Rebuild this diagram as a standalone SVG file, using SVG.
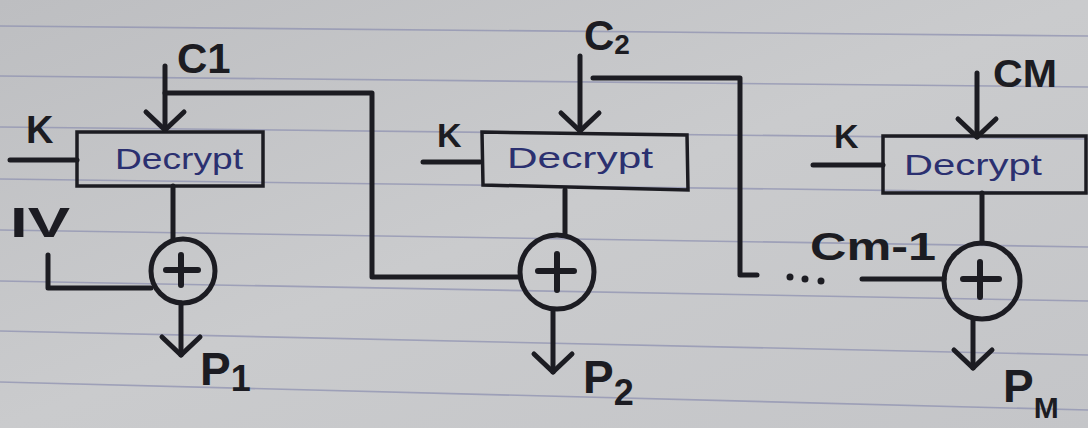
<svg xmlns="http://www.w3.org/2000/svg" width="1088" height="428" viewBox="0 0 1088 428">
  <defs>
    <linearGradient id="paper" x1="0" y1="0" x2="1" y2="1">
      <stop offset="0" stop-color="#bdbec1"/>
      <stop offset="0.5" stop-color="#cacbcd"/>
      <stop offset="1" stop-color="#c4c5c8"/>
    </linearGradient>
    <marker id="chev" markerUnits="userSpaceOnUse" viewBox="-24 -24 30 48" markerWidth="30" markerHeight="48" refX="0" refY="0" orient="auto" overflow="visible">
      <path d="M-18,-19 L0,0 L-18,19" fill="none" stroke="#1c1c22" stroke-width="5" stroke-linecap="round" stroke-linejoin="round"/>
    </marker>
    <style>
      .rule { stroke: #8c8fb0; stroke-width: 1.6; opacity: 0.7; }
      .ink { fill: none; stroke: #1c1c22; stroke-width: 5; stroke-linecap: round; stroke-linejoin: round; }
      .box { fill: none; stroke: #1c1c22; stroke-width: 3.5; }
      .xor { fill: none; stroke: #1c1c22; stroke-width: 5; }
      .plus { fill: none; stroke: #1c1c22; stroke-width: 6; stroke-linecap: round; }
      .dec { font-family: "Liberation Sans", Arial, sans-serif; font-size: 29px; fill: #2b3070; }
      .lbl { font-family: "Liberation Sans", Arial, sans-serif; font-weight: bold; fill: #1c1c22; }
    </style>
  </defs>

  <rect x="0" y="0" width="1088" height="428" fill="url(#paper)"/>
  <g id="paper-lines">
    <line class="rule" x1="0" y1="26" x2="1088" y2="36"/>
    <line class="rule" x1="0" y1="76" x2="1088" y2="87"/>
    <line class="rule" x1="0" y1="127" x2="1088" y2="139"/>
    <line class="rule" x1="0" y1="179" x2="1088" y2="193"/>
    <line class="rule" x1="0" y1="230" x2="1088" y2="247"/>
    <line class="rule" x1="0" y1="281" x2="1088" y2="301"/>
    <line class="rule" x1="0" y1="331" x2="1088" y2="355"/>
    <line class="rule" x1="0" y1="382" x2="1088" y2="410"/>
  </g>

  <g id="connectors">
    <path class="ink" d="M165,66 V130" marker-end="url(#chev)"/>
    <path class="ink" d="M165,93 H372 V277 H518"/>
    <path class="ink" d="M10,160 H77"/>
    <path class="ink" d="M173,186 V239"/>
    <path class="ink" d="M48,255 V288 H151"/>
    <path class="ink" d="M181,303 V355" marker-end="url(#chev)"/>

    <path class="ink" d="M580,56 V131" marker-end="url(#chev)"/>
    <path class="ink" d="M593,78 H740 V275 H757"/>
    <path class="ink" d="M423,162 H480"/>
    <path class="ink" d="M565,190 V234"/>
    <path class="ink" d="M553,310 V372" marker-end="url(#chev)"/>

    <path class="ink" d="M977,73 V137" marker-end="url(#chev)"/>
    <path class="ink" d="M813,165 H883"/>
    <path class="ink" d="M982,193 V243"/>
    <path class="ink" d="M862,279 H944"/>
    <path class="ink" d="M973,319 V368" marker-end="url(#chev)"/>

    <g id="dots" fill="#1c1c22">
      <circle cx="790" cy="277" r="3.5"/>
      <circle cx="805" cy="279" r="3.5"/>
      <circle cx="821" cy="281" r="3.5"/>
    </g>
  </g>

  <g id="block1">
    <rect class="box" x="77" y="132" width="186" height="54"/>
    <text class="dec" x="179" y="169" text-anchor="middle" textLength="128" lengthAdjust="spacingAndGlyphs">Decrypt</text>
  </g>
  <g id="xor1">
    <circle class="xor" cx="183" cy="271" r="32"/>
    <path class="plus" d="M166,270 H198 M181,255 V285"/>
  </g>
  <g id="labels1">
    <text class="lbl" x="177" y="73" font-size="42">C1</text>
    <text class="lbl" x="26" y="143" font-size="38">K</text>
    <text class="lbl" x="10" y="237" font-size="42" textLength="60" lengthAdjust="spacingAndGlyphs">IV</text>
    <text class="lbl" x="200" y="385" font-size="46">P<tspan font-size="36" dy="6">1</tspan></text>
  </g>

  <g id="block2">
    <polygon class="box" points="482,132 687,135 688,190 483,185"/>
    <text class="dec" x="580" y="168" text-anchor="middle" textLength="146" lengthAdjust="spacingAndGlyphs">Decrypt</text>
  </g>
  <g id="xor2">
    <circle class="xor" cx="557" cy="272" r="37"/>
    <path class="plus" d="M538,271 H574 M557,254 V290"/>
  </g>
  <g id="labels2">
    <text class="lbl" x="584" y="50" font-size="42">C<tspan font-size="28" dy="4">2</tspan></text>
    <text class="lbl" x="437" y="147" font-size="34">K</text>
    <text class="lbl" x="583" y="393" font-size="46">P<tspan font-size="36" dy="12">2</tspan></text>
  </g>

  <g id="block3">
    <rect class="box" x="883" y="136" width="203" height="57"/>
    <text class="dec" x="973" y="175" text-anchor="middle" font-size="25" textLength="138" lengthAdjust="spacingAndGlyphs">Decrypt</text>
  </g>
  <g id="xor3">
    <circle class="xor" cx="982" cy="281" r="38"/>
    <path class="plus" d="M963,279 H999 M980,262 V297"/>
  </g>
  <g id="labels3">
    <text class="lbl" x="993" y="87" font-size="38" textLength="64" lengthAdjust="spacingAndGlyphs">CM</text>
    <text class="lbl" x="834" y="148" font-size="34">K</text>
    <text class="lbl" x="810" y="260" font-size="38" textLength="126" lengthAdjust="spacingAndGlyphs">Cm-1</text>
    <text class="lbl" x="1003" y="402" font-size="46">P<tspan font-size="30" dy="16">M</tspan></text>
  </g>
</svg>
